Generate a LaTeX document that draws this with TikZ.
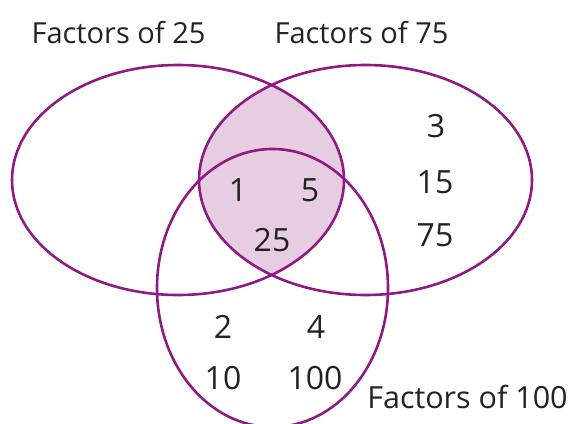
\documentclass[tikz,border=0pt]{standalone}
\usepackage{fontspec}
\setmainfont{Open Sans}
\usetikzlibrary{shapes.geometric}
\definecolor{vennline}{HTML}{8E1A82}
\definecolor{vennfill}{HTML}{E6CDE2}
\definecolor{ink}{HTML}{222222}
\begin{document}
\begin{tikzpicture}[x=1pt,y=-1pt,
  setring/.style={ellipse, draw=vennline, line width=2.6pt, inner sep=0pt},
  num/.style={text=ink, font=\fontsize{32}{34}\selectfont, inner sep=0pt},
  title/.style={text=ink, font=\fontsize{29}{32}\selectfont, inner sep=0pt, anchor=base}]
\useasboundingbox (0,0) rectangle (580,423);
\clip (0,0) rectangle (580,423);
% shaded lens
\begin{scope}
  \clip (178,180) ellipse [x radius=166pt, y radius=115pt];
  \fill[vennfill] (365.5,180) ellipse [x radius=166.5pt, y radius=115pt];
\end{scope}
% set outlines
\node[setring, minimum width=332pt, minimum height=230pt] (A) at (178,180) {};
\node[setring, minimum width=333pt, minimum height=230pt] (B) at (365.5,180) {};
\node[setring, minimum width=231pt, minimum height=278pt] (C) at (272.5,288) {};
% titles
\node[title] (tA) at (118.5,43) {Factors of 25};
\node[title] (tB) at (361.5,43) {Factors of 75};
\node[title, font=\fontsize{30.5}{32}\selectfont, text=ink] (tC) at (467.5,408) {Factors of 100};
% numbers
\node[num] (n1) at (238,190) {1};
\node[num] (n5) at (310,190) {5};
\node[num] (n25) at (272,240) {25};
\node[num] (n3) at (436,126.5) {3};
\node[num] (n15) at (435,182) {15};
\node[num] (n75) at (435,235) {75};
\node[num] (n2) at (223,327) {2};
\node[num] (n4) at (316,327) {4};
\node[num] (n10) at (223,378) {10};
\node[num] (n100) at (315,378) {100};
\end{tikzpicture}
\end{document}
